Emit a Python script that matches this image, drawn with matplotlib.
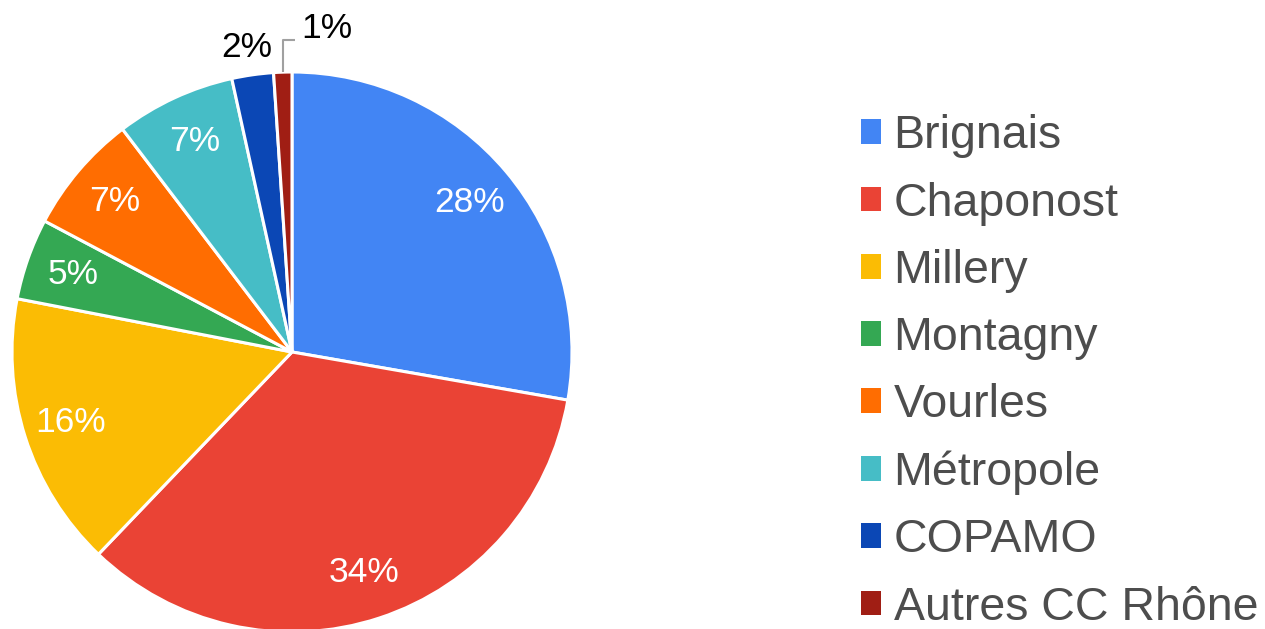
import numpy as np
import matplotlib
matplotlib.use("Agg")
import matplotlib.pyplot as plt
from matplotlib.patches import Patch

plt.rcParams['font.family'] = ['Liberation Sans', 'DejaVu Sans']

labels = ['Brignais', 'Chaponost', 'Millery', 'Montagny', 'Vourles',
          'Métropole', 'COPAMO', 'Autres CC Rhône']
shares = [27.75, 34.4, 15.9, 4.7, 6.9, 6.9, 2.4, 1.05]
colors = ['#4285F4', '#EA4335', '#FBBC04', '#34A853', '#FF6D01',
          '#46BDC6', '#0B47B5', '#A01E14']
outside = [False, False, False, False, False, False, True, True]

W, H = 1265, 629
fig = plt.figure(figsize=(W / 100, H / 100), dpi=100)
# pie box in pixels: centre (292, 352), radius 280
cx, cy, r = 292, 352, 280
ax = fig.add_axes([(cx - r) / W, (H - cy - r) / H, 2 * r / W, 2 * r / H])

wedges, texts, autotexts = ax.pie(
    shares, colors=colors, startangle=90, counterclock=False,
    autopct='%.0f%%', pctdistance=0.83, radius=1, frame=False,
    wedgeprops=dict(edgecolor='white', linewidth=2.2),
    textprops=dict(color='white', fontsize=25.5))
ax.set_xlim(-1, 1)
ax.set_ylim(-1, 1)
ax.set_aspect('auto')
ax.axis('off')

for w, t, out in zip(wedges, autotexts, outside):
    if not out:
        continue
    mid = np.deg2rad((w.theta1 + w.theta2) / 2)
    t.set_color('black')
    if w.theta2 - w.theta1 > 5:
        t.set_position((1.14 * np.cos(mid), 1.10 * np.sin(mid)))
    else:
        x0, y0 = np.cos(mid), np.sin(mid)
        ax.plot([x0, x0, x0 + 0.045], [y0, 1.114, 1.114], color='#a0a0a0',
                lw=1.5, clip_on=False, solid_capstyle='butt')
        t.set_position((x0 + 0.065, 1.155))
        t.set_ha('left')
    t.set_clip_on(False)

handles = [Patch(facecolor=c, edgecolor='none') for c in colors]
fig.legend(handles, labels, loc='center left',
           bbox_to_anchor=(861 / W, (H - 372) / H), frameon=False,
           fontsize=33.5, labelcolor='#4d4d4d', borderpad=0, borderaxespad=0,
           handlelength=0.44, handleheight=0.44, handletextpad=0.26,
           labelspacing=0.5)

fig.savefig('out.png', dpi=100)
